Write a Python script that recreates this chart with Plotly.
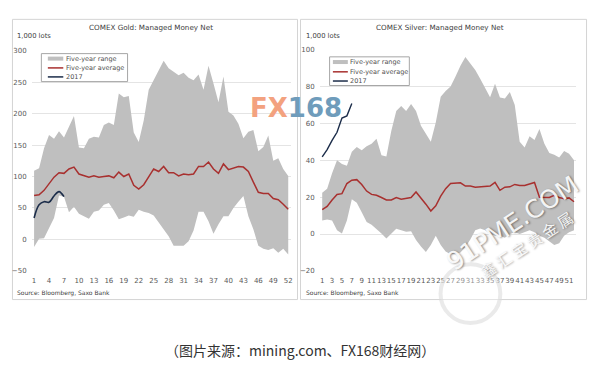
import plotly.graph_objects as go

weeks = list(range(1, 53))

gold_upper = [109, 113, 145, 166, 160, 172, 162, 179, 196, 146,
              145, 160, 163, 162, 182, 186, 182, 232, 226, 228,
              170, 155, 189, 238, 253, 269, 284, 272, 266, 261,
              265, 257, 253, 262, 238, 276, 248, 218, 259, 203,
              197, 184, 161, 171, 174, 140, 147, 165, 125, 129,
              112, 101]
gold_lower = [-12, 1, 2, 19, 34, 70, 68, 43, 52, 41,
              37, 33, 44, 46, 55, 58, 46, 32, 35, 38,
              36, 47, 44, 42, 38, 27, 14, 5, -10, -10,
              -10, -3, 14, 44, 44, 29, 9, 24, 37, 37,
              50, 60, 69, 37, 16, -10, -15, -17, -14, -21,
              -15, -24]
gold_avg = [70, 71, 78, 88, 99, 106, 105, 112, 115, 104,
            101, 99, 101, 99, 100, 101, 98, 107, 100, 104,
            86, 80, 87, 100, 112, 108, 116, 106, 106, 101,
            104, 103, 104, 116, 116, 123, 112, 105, 120, 111,
            113, 116, 115, 108, 91, 75, 73, 73, 65, 63,
            56, 48]
gold_2017 = [34, 55, 60, 59, 69, 76, 68]

silver_upper = [22.4, 24.5, 33, 40, 38, 37, 44.6, 47.2, 45.5, 47.6,
                49, 51.7, 42.8, 42, 56, 66.8, 69.4, 66.8, 70.6, 66.8,
                58.8, 54.4, 50, 60.5, 74.5, 77.6, 80, 85.4, 91.3, 96,
                92.4, 89, 84.2, 79, 74.2, 81.5, 74, 73.5, 77, 70,
                50, 47, 53, 51, 57, 49, 44, 43, 41.5, 45,
                43.5, 40]
silver_lower = [7.4, 7.9, 7.4, 2, 0.3, 7.4, 18.9, 17, 11.8, 6.5,
                5, 2.9, 0.3, -2.4, 0.3, 2.9, 2, 1.2, 1.5, -3.3,
                -6.8, -9.8, -6, -1, -6, -9.5, -11, -11, -10, -7,
                -3, 2, 3, 2, 0, -1, -1, -2, 0, 1,
                0, 1, 2, 1, -1, -2, -4, -6, -5, -1,
                1, 2]
silver_avg = [13.2, 15, 18.5, 21.5, 21.9, 27.4, 29.2, 29.5, 26.9, 23.3,
              21.5, 21, 19.8, 18.5, 18.5, 19.8, 18.9, 19.2, 19.8, 22.8,
              19.8, 16.2, 12.5, 15.3, 20.6, 24.6, 27.4, 27.4, 27.8, 26,
              26, 25.4, 25.6, 25.6, 26, 28, 23.7, 25.4, 25.6, 26.9,
              26.3, 26.3, 27, 28, 20, 19.8, 19.8, 21, 19.8, 19.2,
              19.6, 17.5]
silver_2017 = [41.9, 45.8, 50.8, 55.2, 62.9, 64.1, 70.8]

gold_ticks = list(range(1, 53, 3))
silver_ticks = list(range(1, 52, 2))
gold_yticks = [-50, 0, 50, 100, 150, 200, 250, 300]
silver_yticks = [-20, 0, 20, 40, 60, 80, 100]

legend_labels = ["Five-year range", "Five-year average", "2017"]
gold_title = "COMEX Gold: Managed Money Net"
silver_title = "COMEX Silver: Managed Money Net"
unit_label = "1,000 lots"
source_label = "Source: Bloomberg, Saxo Bank"
caption = "（图片来源：mining.com、FX168财经网）"

W, H = 602, 375
GRAY = "#bfbfbf"
RED = "#a8302f"
NAVY = "#1c2d4a"
TXT = "#595959"
FONT = "DejaVu Sans"


def X(px):
    return px / W


def Y(py):
    return 1 - py / H


fig = go.Figure()

# Gold panel
fig.add_trace(go.Scatter(x=weeks, y=gold_lower, mode="lines", line=dict(width=0, color=GRAY),
                         showlegend=False, hoverinfo="skip", xaxis="x", yaxis="y"))
fig.add_trace(go.Scatter(x=weeks, y=gold_upper, mode="lines", line=dict(width=0, color=GRAY),
                         fill="tonexty", fillcolor=GRAY, showlegend=False, xaxis="x", yaxis="y"))
fig.add_trace(go.Scatter(x=weeks, y=gold_avg, mode="lines", line=dict(width=1.5, color=RED),
                         showlegend=False, xaxis="x", yaxis="y"))
fig.add_trace(go.Scatter(x=weeks[:len(gold_2017)], y=gold_2017, mode="lines",
                         line=dict(width=1.6, color=NAVY, shape="spline"),
                         showlegend=False, xaxis="x", yaxis="y"))

# Silver panel
fig.add_trace(go.Scatter(x=weeks, y=silver_lower, mode="lines", line=dict(width=0, color=GRAY),
                         showlegend=False, hoverinfo="skip", xaxis="x2", yaxis="y2"))
fig.add_trace(go.Scatter(x=weeks, y=silver_upper, mode="lines", line=dict(width=0, color=GRAY),
                         fill="tonexty", fillcolor=GRAY, showlegend=False, xaxis="x2", yaxis="y2"))
fig.add_trace(go.Scatter(x=weeks, y=silver_avg, mode="lines", line=dict(width=1.5, color=RED),
                         showlegend=False, xaxis="x2", yaxis="y2"))
fig.add_trace(go.Scatter(x=weeks[:len(silver_2017)], y=silver_2017, mode="lines",
                         line=dict(width=1.4, color=NAVY),
                         showlegend=False, xaxis="x2", yaxis="y2"))

tickfont = dict(family=FONT, size=7, color=TXT)
common_x = dict(range=[0.5, 52.5], showgrid=False, zeroline=False, showline=False,
                ticks="", tickfont=tickfont, tickangle=0, ticklabelstandoff=4)
common_y = dict(showgrid=True, gridcolor="#e4e4e4", gridwidth=1, zeroline=False,
                showline=False, ticks="", tickfont=tickfont, ticklabelstandoff=4)

fig.update_layout(
    width=W, height=H,
    margin=dict(l=0, r=0, t=0, b=0),
    paper_bgcolor="white", plot_bgcolor="white",
    showlegend=False,
    xaxis=dict(domain=[X(31.7), X(291.7)], anchor="y", tickvals=gold_ticks, **common_x),
    yaxis=dict(domain=[Y(272.7), Y(47.7)], anchor="x", range=[-50, 300], tickvals=gold_yticks, **common_y),
    xaxis2=dict(domain=[X(320.8), X(578.4)], anchor="y2", tickvals=silver_ticks, **common_x),
    yaxis2=dict(domain=[Y(272.7), Y(46.7)], anchor="x2", range=[-20, 100], tickvals=silver_yticks, **common_y),
)

shapes = []
annotations = []

# Panel borders
for x0, x1 in [(12.5, 298.5), (301.5, 588.5)]:
    shapes.append(dict(type="rect", xref="paper", yref="paper", x0=X(x0), x1=X(x1), y0=Y(302), y1=Y(15.7),
                       line=dict(color="#d4d4d4", width=1), fillcolor="rgba(0,0,0,0)", layer="below"))


def txt(x, y, text, size, color="#404040", xanchor="left", family=FONT, **kw):
    annotations.append(dict(xref="paper", yref="paper", x=X(x), y=Y(y), text=text, showarrow=False,
                            xanchor=xanchor, yanchor="middle",
                            font=dict(family=family, size=size, color=color), borderpad=0, **kw))


# Titles and labels
txt(152, 24.3, gold_title, 7.2, xanchor="center")
txt(441, 24.3, silver_title, 7.2, xanchor="center")
txt(16.5, 32.7, unit_label, 6.8)
txt(306.5, 32.7, unit_label, 6.8)
txt(16.5, 295, source_label, 6)
txt(306.5, 295, source_label, 6)


# Legends
def legend(bx0, by0, bx1, by1, sx0, sx1, ys):
    shapes.append(dict(type="rect", xref="paper", yref="paper", x0=X(bx0), x1=X(bx1), y0=Y(by1), y1=Y(by0),
                       line=dict(color="#a6a6a6", width=1), fillcolor="white", layer="above"))
    styles = [(GRAY, 4), (RED, 1.5), (NAVY, 1.5)]
    for (col, w), yy, lab in zip(styles, ys, legend_labels):
        shapes.append(dict(type="line", xref="paper", yref="paper", x0=X(sx0), x1=X(sx1), y0=Y(yy), y1=Y(yy),
                           line=dict(color=col, width=w), layer="above"))
        txt(sx1 + 1.5, yy, lab, 6.5, color="#505050")


legend(41.5, 50.7, 128, 79.3, 48, 63.5, [55.8, 65.3, 74.5])
legend(330.7, 54, 410.7, 83.3, 334, 349, [59.3, 69.3, 78.7])

# Watermark ring (91PME logo)
shapes.append(dict(type="circle", xref="paper", yref="paper", x0=X(442), x1=X(502), y0=Y(326), y1=Y(266),
                   line=dict(color="rgba(220,220,220,0.6)", width=4), fillcolor="rgba(255,255,255,0.35)",
                   layer="above"))

# Watermarks
annotations.append(dict(xref="paper", yref="paper", x=X(297), y=Y(106), showarrow=False,
                        xanchor="center", yanchor="middle",
                        text="<span style='color:#f3a27f'>FX</span><span style='color:#6f9cbb'>168</span>",
                        font=dict(family=FONT, size=26, weight="bold")))
annotations.append(dict(xref="paper", yref="paper", x=X(514), y=Y(224), showarrow=False,
                        xanchor="center", yanchor="middle", textangle=-33,
                        text="91PME.COM",
                        font=dict(family=FONT, size=25, color="rgba(255,255,255,0.92)",
                                  shadow="1px 1px 2px rgba(0,0,0,0.45)")))
annotations.append(dict(xref="paper", yref="paper", x=X(528), y=Y(246), showarrow=False,
                        xanchor="center", yanchor="middle", textangle=-33,
                        text="鑫 汇 宝 贵 金 属",
                        font=dict(family="Noto Sans CJK SC", size=15, color="rgba(255,255,255,0.92)",
                                  shadow="1px 1px 2px rgba(0,0,0,0.45)")))

# Caption
txt(301, 354, caption, 14, color="#333333", xanchor="center", family="Noto Sans CJK SC")

fig.update_layout(shapes=shapes, annotations=annotations)

fig.write_html("out.html", config={"displayModeBar": False},
               post_script="document.body.style.margin='0';document.body.style.overflow='hidden';")
